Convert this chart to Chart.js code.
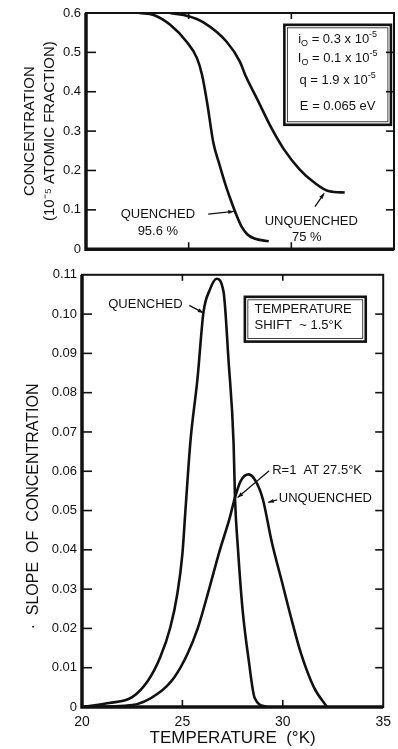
<!DOCTYPE html>
<html>
<head>
<meta charset="utf-8">
<script src="https://cdn.jsdelivr.net/npm/chart.js@4.4.1/dist/chart.umd.min.js"></script>
<style>
  body { margin: 0; background: #fff; }
  #wrap { position: relative; width: 398px; height: 749px; }
  #topBox { position: absolute; left: 0; top: 0; width: 398px; height: 262px; }
  #botBox { position: absolute; left: 0; top: 262px; width: 398px; height: 487px; }
</style>
</head>
<body>
<div id="wrap">
  <div id="topBox"><canvas id="concentration_chart"></canvas></div>
  <div id="botBox"><canvas id="slope_chart"></canvas></div>
</div>
<script>
// top panel: concentration vs temperature
var tempQuenchedTop = [22.6, 23.3, 24.1, 24.9, 25.4, 25.65, 25.9, 26.2, 26.5, 26.8, 27.05, 27.3, 27.55, 27.85, 28.2, 28.9];
var concQuenched    = [0.6, 0.595, 0.57, 0.527, 0.486, 0.443, 0.372, 0.271, 0.215, 0.163, 0.125, 0.09, 0.06, 0.038, 0.027, 0.02];
var tempUnquenchedTop = [24.1, 25.0, 25.7, 26.85, 27.5, 27.75, 28.35, 28.95, 29.65, 30.4, 31.1, 31.85, 32.6];
var concUnquenched    = [0.6, 0.592, 0.577, 0.527, 0.476, 0.443, 0.38, 0.316, 0.253, 0.203, 0.17, 0.147, 0.144];

// bottom panel: slope of concentration vs temperature
var tempQuenchedBot = [20.0, 21.35, 22.5, 23.3, 23.9, 24.4, 24.75, 25.0, 25.15, 25.4, 25.75, 26.05, 26.35, 26.7, 27.05, 27.3, 27.55, 27.62, 27.77, 28.0, 28.3, 28.6, 29.2];
var slopeQuenched   = [0, 0.001, 0.0025, 0.0068, 0.0127, 0.0203, 0.0289, 0.039, 0.05, 0.0676, 0.0835, 0.1005, 0.106, 0.109, 0.1056, 0.088, 0.067, 0.053, 0.04, 0.0246, 0.012, 0.0023, 0];
var tempUnquenchedBot = [20.0, 22.5, 23.8, 24.6, 25.25, 25.75, 26.35, 26.85, 27.35, 27.6, 27.9, 28.3, 28.65, 29.0, 29.45, 29.95, 30.45, 30.9, 31.55, 32.2];
var slopeUnquenched   = [0, 0.0005, 0.0035, 0.0076, 0.0135, 0.0198, 0.0304, 0.0397, 0.048, 0.053, 0.0575, 0.0592, 0.0575, 0.053, 0.042, 0.032, 0.022, 0.0137, 0.005, 0];

var tempTicks = [20, 25, 30, 35];

var FONT = "'Liberation Sans', Arial, sans-serif";
var INK = '#111';

function toPoints(xs, ys) {
  return xs.map(function (x, i) { return { x: x, y: ys[i] }; });
}

function lineSet(label, pts) {
  return {
    label: label,
    data: pts,
    borderColor: INK,
    borderWidth: 2.6,
    pointRadius: 0,
    fill: false,
    cubicInterpolationMode: 'monotone'
  };
}

function arrow(ctx, x1, y1, x2, y2) {
  ctx.beginPath();
  ctx.moveTo(x1, y1);
  ctx.lineTo(x2, y2);
  ctx.stroke();
  var a = Math.atan2(y2 - y1, x2 - x1);
  ctx.beginPath();
  ctx.moveTo(x2, y2);
  ctx.lineTo(x2 - 6 * Math.cos(a - 0.35), y2 - 6 * Math.sin(a - 0.35));
  ctx.lineTo(x2 - 6 * Math.cos(a + 0.35), y2 - 6 * Math.sin(a + 0.35));
  ctx.closePath();
  ctx.fill();
}

// parts: [text, size, dy]
function richText(ctx, parts, cx, cy) {
  var w = 0;
  parts.forEach(function (p) { ctx.font = p[1] + 'px ' + FONT; w += ctx.measureText(p[0]).width; });
  var x = cx - w / 2;
  ctx.textAlign = 'left';
  ctx.textBaseline = 'middle';
  parts.forEach(function (p) {
    ctx.font = p[1] + 'px ' + FONT;
    ctx.fillText(p[0], x, cy + p[2]);
    x += ctx.measureText(p[0]).width;
  });
}

function frameAndTicks(chart, yTickVals, xTickVals) {
  var ctx = chart.ctx, a = chart.chartArea;
  var xs = chart.scales.x, ys = chart.scales.y;
  ctx.save();
  ctx.strokeStyle = INK;
  ctx.lineWidth = 1.6;
  yTickVals.forEach(function (v) {
    var py = ys.getPixelForValue(v);
    ctx.beginPath(); ctx.moveTo(a.left, py); ctx.lineTo(a.left + 10, py); ctx.stroke();
    ctx.beginPath(); ctx.moveTo(a.right, py); ctx.lineTo(a.right - 8, py); ctx.stroke();
  });
  xTickVals.forEach(function (v) {
    var px = xs.getPixelForValue(v);
    ctx.beginPath(); ctx.moveTo(px, a.bottom); ctx.lineTo(px, a.bottom - 7); ctx.stroke();
    ctx.beginPath(); ctx.moveTo(px, a.top); ctx.lineTo(px, a.top + 6); ctx.stroke();
  });
  ctx.lineWidth = 2;
  ctx.strokeRect(a.left, a.top, a.right - a.left, a.bottom - a.top);
  ctx.lineWidth = 3.5;
  ctx.beginPath();
  ctx.moveTo(a.left, a.top); ctx.lineTo(a.left, a.bottom); ctx.lineTo(a.right, a.bottom);
  ctx.stroke();
  ctx.restore();
}

var topNotes = {
  id: 'topNotes',
  afterDraw: function (chart) {
    var ctx = chart.ctx, xs = chart.scales.x, ys = chart.scales.y;
    var X = function (v) { return xs.getPixelForValue(v); };
    var Y = function (v) { return ys.getPixelForValue(v); };
    frameAndTicks(chart, [0.1, 0.2, 0.3, 0.4, 0.5], [25, 30]);
    ctx.save();
    ctx.fillStyle = INK;
    ctx.strokeStyle = INK;
    ctx.font = '13px ' + FONT;
    ctx.textAlign = 'center';
    ctx.textBaseline = 'middle';
    ctx.fillText('QUENCHED', X(23.5), Y(0.089));
    ctx.fillText('95.6 %', X(23.5), Y(0.046));
    ctx.fillText('UNQUENCHED', X(30.97), Y(0.071));
    ctx.fillText('75 %', X(30.75), Y(0.03));
    ctx.lineWidth = 1.3;
    arrow(ctx, X(25.95), Y(0.089), X(27.2), Y(0.096));
    arrow(ctx, X(31.15), Y(0.108), X(31.6), Y(0.142));

    // parameter box
    var bx1 = X(29.66), bx2 = X(34.85), by1 = Y(0.57), by2 = Y(0.316);
    ctx.lineWidth = 2.6;
    ctx.strokeRect(bx1, by1, bx2 - bx1, by2 - by1);
    ctx.lineWidth = 0.8;
    ctx.strokeRect(bx1 + 3, by1 + 3, bx2 - bx1 - 6, by2 - by1 - 6);
    var cx = (bx1 + bx2) / 2;
    richText(ctx, [['i', 13, 0], ['O', 9, 4], [' = 0.3 x 10', 13, 0], ['-5', 9, -5]], cx, by1 + 15);
    richText(ctx, [['I', 13, 0], ['O', 9, 4], [' = 0.1 x 10', 13, 0], ['-5', 9, -5]], cx, by1 + 34);
    richText(ctx, [['q = 1.9 x 10', 13, 0], ['-5', 9, -5]], cx, by1 + 56);
    richText(ctx, [['E = 0.065 eV', 13, 0]], cx, by1 + 82);
    ctx.restore();
  }
};

var botNotes = {
  id: 'botNotes',
  afterDraw: function (chart) {
    var ctx = chart.ctx, xs = chart.scales.x, ys = chart.scales.y;
    var X = function (v) { return xs.getPixelForValue(v); };
    var Y = function (v) { return ys.getPixelForValue(v); };
    frameAndTicks(chart, [0.01, 0.02, 0.03, 0.04, 0.05, 0.06, 0.07, 0.08, 0.09, 0.1], [25, 30]);
    ctx.save();
    ctx.fillStyle = INK;
    ctx.strokeStyle = INK;
    ctx.font = '13px ' + FONT;
    ctx.textBaseline = 'middle';
    ctx.textAlign = 'center';
    ctx.fillText('QUENCHED', X(23.16), Y(0.1024));
    ctx.textAlign = 'left';
    ctx.fillText('R=1  AT 27.5°K', X(29.47), Y(0.0601));
    ctx.fillText('UNQUENCHED', X(29.8), Y(0.053));
    ctx.lineWidth = 1.3;
    arrow(ctx, X(25.34), Y(0.1022), X(26.05), Y(0.1003));
    arrow(ctx, X(29.32), Y(0.0601), X(27.75), Y(0.0533));
    arrow(ctx, X(29.72), Y(0.0527), X(29.27), Y(0.0521));

    // temperature shift box
    var bx1 = X(28.11), bx2 = X(34.13), by1 = Y(0.1044), by2 = Y(0.093);
    ctx.lineWidth = 2.6;
    ctx.strokeRect(bx1, by1, bx2 - bx1, by2 - by1);
    ctx.lineWidth = 0.8;
    ctx.strokeRect(bx1 + 3, by1 + 3, bx2 - bx1 - 6, by2 - by1 - 6);
    ctx.fillText('TEMPERATURE', X(28.59), Y(0.1011));
    ctx.fillText('SHIFT  ~ 1.5°K', X(28.59), Y(0.0971));
    ctx.restore();
  }
};

window.onload = function () {
  var top_ctx = document.getElementById('concentration_chart').getContext('2d');
  var top_chart = new Chart(top_ctx, {
    type: 'line',
    data: {
      datasets: [
        lineSet('Quenched', toPoints(tempQuenchedTop, concQuenched)),
        lineSet('Unquenched', toPoints(tempUnquenchedTop, concUnquenched))
      ]
    },
    options: {
      responsive: true,
      maintainAspectRatio: false,
      animation: false,
      layout: { padding: { top: 13, right: 4, bottom: 12, left: 0 } },
      plugins: { legend: { display: false }, tooltip: { enabled: false } },
      scales: {
        x: { type: 'linear', min: 20, max: 35, display: false },
        y: {
          min: 0, max: 0.6,
          ticks: {
            stepSize: 0.1,
            padding: 5,
            color: INK,
            font: { family: FONT, size: 13 },
            callback: function (v) { return v === 0 ? '0' : v.toFixed(1); }
          },
          grid: { display: false, drawTicks: false },
          border: { display: false },
          title: {
            display: true,
            text: ['CONCENTRATION', '(10\u207B\u2075 ATOMIC FRACTION)'],
            color: INK,
            font: { family: FONT, size: 15, lineHeight: 1.33 },
            padding: { top: 20, bottom: 0 }
          },
          afterFit: function (scale) { scale.width = 86; }
        }
      }
    },
    plugins: [topNotes]
  });

  var bot_ctx = document.getElementById('slope_chart').getContext('2d');
  var bot_chart = new Chart(bot_ctx, {
    type: 'line',
    data: {
      datasets: [
        lineSet('Quenched', toPoints(tempQuenchedBot, slopeQuenched)),
        lineSet('Unquenched', toPoints(tempUnquenchedBot, slopeUnquenched))
      ]
    },
    options: {
      responsive: true,
      maintainAspectRatio: false,
      animation: false,
      layout: { padding: { top: 11, right: 7, bottom: 0, left: 0 } },
      plugins: { legend: { display: false }, tooltip: { enabled: false } },
      scales: {
        x: {
          type: 'linear', min: 20, max: 35,
          afterBuildTicks: function (scale) {
            scale.ticks = tempTicks.map(function (v) { return { value: v }; });
          },
          ticks: { padding: 7, color: INK, font: { family: FONT, size: 14 } },
          grid: { display: false, drawTicks: false },
          border: { display: false },
          title: {
            display: true,
            text: 'TEMPERATURE  (°K)',
            color: INK,
            font: { family: FONT, size: 17 },
            padding: { top: 0, bottom: 0 }
          },
          afterFit: function (scale) { scale.height = 42; }
        },
        y: {
          min: 0, max: 0.11,
          ticks: {
            stepSize: 0.01,
            padding: 5,
            color: INK,
            font: { family: FONT, size: 13 },
            callback: function (v) { return v === 0 ? '0' : v.toFixed(2); }
          },
          grid: { display: false, drawTicks: false },
          border: { display: false },
          title: {
            display: true,
            text: '\u00B7  SLOPE  OF  CONCENTRATION\u00A0\u00A0\u00A0\u00A0\u00A0\u00A0\u00A0',
            color: INK,
            font: { family: FONT, size: 16 },
            padding: { top: 24, bottom: 0 }
          },
          afterFit: function (scale) { scale.width = 82; }
        }
      }
    },
    plugins: [botNotes]
  });
};
</script>
</body>
</html>
